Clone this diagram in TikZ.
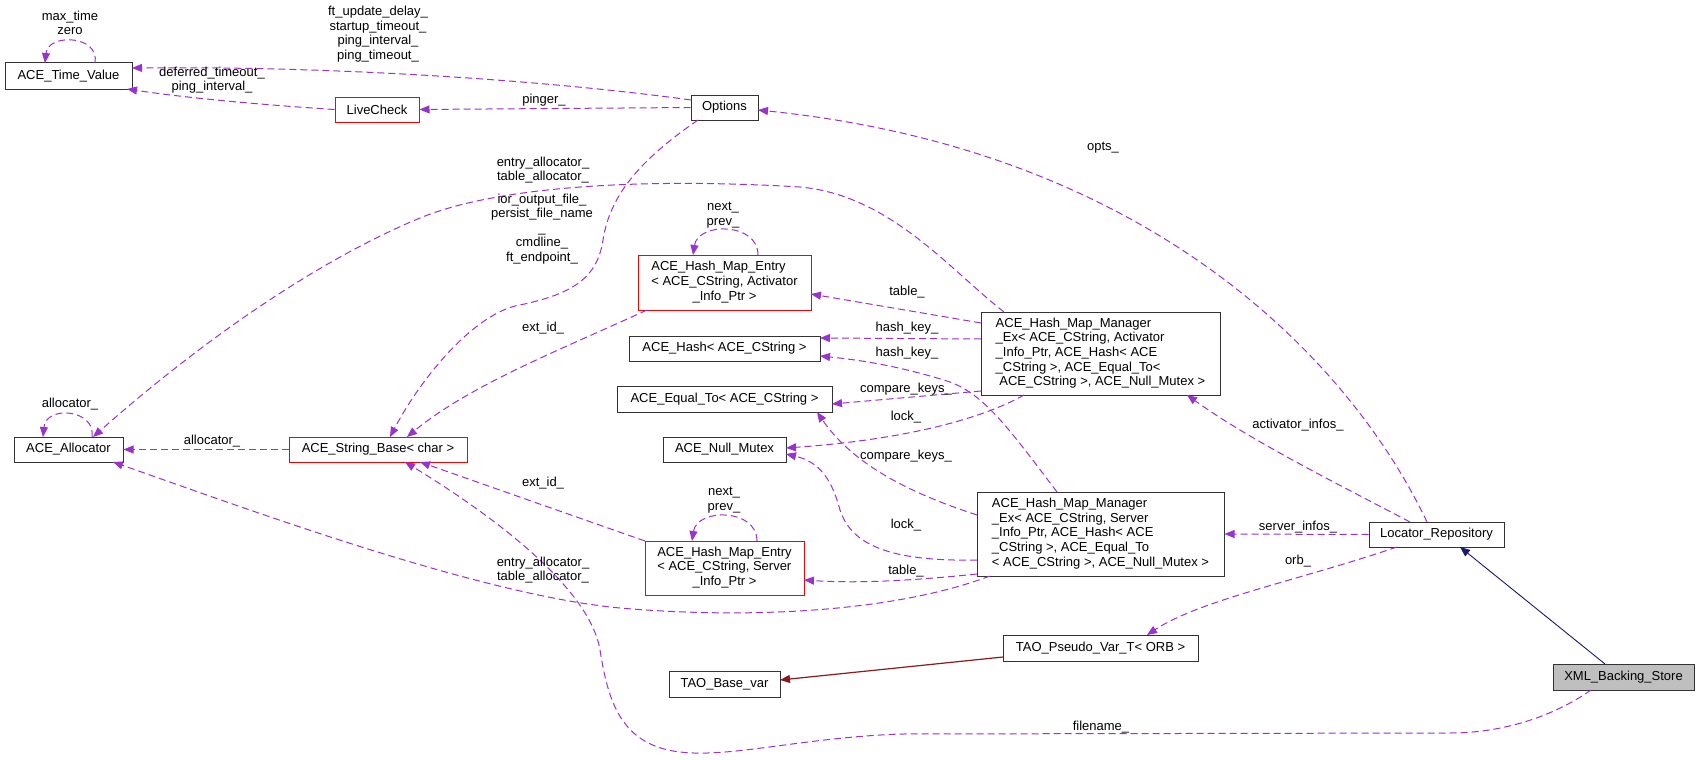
\documentclass[tikz,border=0pt]{standalone}
\usepackage{fontspec}
\setmainfont{Liberation Sans}
\usetikzlibrary{arrows.meta}
\definecolor{orch}{HTML}{9A32CD}
\definecolor{mblue}{HTML}{191970}
\definecolor{fbrick}{HTML}{8B1A1A}
\definecolor{nodegray}{HTML}{BFBFBF}
\newcommand{\mlt}[2]{\begin{tabular}{@{}l@{}}#1\\\multicolumn{1}{@{}c@{}}{#2}\end{tabular}}
\begin{document}
\begin{tikzpicture}[x=1pt,y=-1pt,
  every node/.style={font=\fontsize{13}{14.6}\selectfont},
  bx/.style={draw=black!80, line width=1pt, fill=white, inner sep=0pt, rectangle},
  rbx/.style={bx, draw=red},
  gbx/.style={bx, fill=nodegray},
  sz/.style 2 args={minimum width=#1pt, minimum height=#2pt},
  lbl/.style={inner sep=0pt, align=center},
  rel/.style={draw=orch, line width=1pt, dash pattern=on 7pt off 4pt, -{Triangle[length=10pt,width=8pt]}},
  inh/.style={draw=mblue, line width=0.9pt, -{Triangle[length=10pt,width=8pt]}},
  tmpl/.style={draw=fbrick, line width=1.2pt, -{Triangle[length=10pt,width=8pt]}}
]
\useasboundingbox[fill=white] (0,0) rectangle (1700,760);

% nodes
\node[bx,sz={127}{26}] (tv) at (68.5,76) {ACE\_Time\_Value};
\node[rbx,sz={84}{25}] (lc) at (377,109.5) {LiveCheck};
\node[bx,sz={67}{25}] (opt) at (724.5,107.5) {Options};
\node[bx,sz={109}{25}] (alloc) at (68.5,449.5) {ACE\_Allocator};
\node[rbx,sz={178}{25}] (sb) at (378,449.5) {ACE\_String\_Base< char >};
\node[rbx,sz={173}{55}] (hea) at (724.5,282.5) {\mlt{ACE\_Hash\_Map\_Entry\\< ACE\_CString, Activator}{\_Info\_Ptr >}};
\node[bx,sz={191}{25}] (hash) at (724.5,348.5) {ACE\_Hash< ACE\_CString >};
\node[bx,sz={215}{26}] (eq) at (724.5,399) {ACE\_Equal\_To< ACE\_CString >};
\node[bx,sz={123}{25}] (nm) at (724.5,449.5) {ACE\_Null\_Mutex};
\node[bx,sz={239}{83}] (hma) at (1100.5,353.5) {\mlt{ACE\_Hash\_Map\_Manager\\\_Ex< ACE\_CString, Activator\\\_Info\_Ptr, ACE\_Hash< ACE\\\_CString >, ACE\_Equal\_To<}{\ ACE\_CString >, ACE\_Null\_Mutex >}};
\node[bx,sz={247}{84}] (hms) at (1100.5,534) {\mlt{ACE\_Hash\_Map\_Manager\\\_Ex< ACE\_CString, Server\\\_Info\_Ptr, ACE\_Hash< ACE\\\_CString >, ACE\_Equal\_To}{< ACE\_CString >, ACE\_Null\_Mutex >}};
\node[rbx,sz={159}{54}] (hes) at (724.5,568) {\mlt{ACE\_Hash\_Map\_Entry\\< ACE\_CString, Server}{\_Info\_Ptr >}};
\node[bx,sz={135}{25}] (lr) at (1436.5,534.5) {Locator\_Repository};
\node[gbx,sz={141}{26}] (xml) at (1623.5,677) {XML\_Backing\_Store};
\node[bx,sz={195}{26}] (tpv) at (1100.5,648) {TAO\_Pseudo\_Var\_T< ORB >};
\node[bx,sz={111}{26}] (tbv) at (724.5,684) {TAO\_Base\_var};

% edges
\draw[rel] ([shift={(-33.5,-7.5)}]opt.center) .. controls (560,82) and (350,66) .. ([shift={(63.5,-8)}]tv.center);
\draw[rel] (opt.west) -- (lc.east);
\draw[rel] (lc.west) .. controls (250,104) and (180,97) .. ([shift={(58.5,13)}]tv.center);
\draw[rel] ([shift={(26.5,-13)}]tv.center) .. controls (100,35) and (48,33) .. ([shift={(-23.5,-13)}]tv.center);
\draw[rel] ([shift={(23.5,-12.5)}]alloc.center) .. controls (96,409) and (46,405) .. ([shift={(-25.5,-12.5)}]alloc.center);
\draw[rel] (sb.west) -- (alloc.east);
\draw[rel] ([shift={(-96.5,-41.5)}]hma.center) .. controls (950,270) and (890,195) .. (800,187) .. controls (650,178) and (500,185) .. (420,218) .. controls (300,268) and (180,360) .. ([shift={(24.5,-12.5)}]alloc.center);
\draw[rel] ([shift={(-110.5,42)}]hms.center) .. controls (900,610) and (760,620) .. (620,608) .. controls (480,595) and (250,510) .. ([shift={(44.5,12.5)}]alloc.center);
\draw[rel] ([shift={(-26.5,12.5)}]opt.center) .. controls (640,160) and (610,195) .. (603,240) .. controls (597,280) and (570,295) .. (515,306) .. controls (470,318) and (420,380) .. ([shift={(12,-12.5)}]sb.center);
\draw[rel] ([shift={(-77.5,27.5)}]hea.center) .. controls (560,350) and (470,385) .. ([shift={(29,-12.5)}]sb.center);
\draw[rel] ([shift={(-79.5,-27)}]hes.center) -- ([shift={(42,12.5)}]sb.center);
\draw[rel] ([shift={(-32.5,13)}]xml.center) .. controls (1560,712) and (1510,733) .. (1450,733) -- (900,734) .. controls (800,738) and (730,758) .. (680,752) .. controls (620,745) and (608,700) .. (600,650) .. controls (590,590) and (500,520) .. ([shift={(27,12.5)}]sb.center);
\draw[rel] ([shift={(-119.5,-30.5)}]hma.center) -- ([shift={(86.5,11.5)}]hea.center);
\draw[rel] ([shift={(-119.5,-14.5)}]hma.center) -- ([shift={(95.5,-10.5)}]hash.center);
\draw[rel] ([shift={(-43.5,-42)}]hms.center) .. controls (1010,430) and (985,395) .. (950,382) .. controls (900,366) and (860,360) .. ([shift={(95.5,7.5)}]hash.center);
\draw[rel] ([shift={(-119.5,37.5)}]hma.center) -- ([shift={(107.5,5)}]eq.center);
\draw[rel] ([shift={(-76.5,41.5)}]hma.center) .. controls (980,420) and (900,440) .. ([shift={(61.5,-1.5)}]nm.center);
\draw[rel] ([shift={(-123.5,-19)}]hms.center) .. controls (900,490) and (850,460) .. ([shift={(92.5,13)}]eq.center);
\draw[rel] ([shift={(-123.5,26)}]hms.center) .. controls (880,562) and (850,540) .. (840,510) .. controls (832,480) and (820,462) .. ([shift={(61.5,4.5)}]nm.center);
\draw[rel] ([shift={(-123.5,40)}]hms.center) .. controls (900,582) and (850,583) .. ([shift={(79.5,12)}]hes.center);
\draw[rel] ([shift={(33.5,-27.5)}]hea.center) .. controls (758,222) and (698,222) .. ([shift={(-31.5,-27.5)}]hea.center);
\draw[rel] ([shift={(32.5,-27)}]hes.center) .. controls (757,508) and (697,508) .. ([shift={(-32.5,-27)}]hes.center);
\draw[rel] ([shift={(-9.5,-12.5)}]lr.center) .. controls (1350,360) and (1150,150) .. ([shift={(33.5,2.5)}]opt.center);
\draw[rel] ([shift={(-26.5,-12.5)}]lr.center) .. controls (1330,480) and (1250,440) .. ([shift={(86.5,41.5)}]hma.center);
\draw[rel] (lr.west) -- (hms.east);
\draw[rel] ([shift={(-39.5,12.5)}]lr.center) .. controls (1300,580) and (1200,600) .. ([shift={(46.5,-13)}]tpv.center);
\draw[inh] ([shift={(-18.5,-13)}]xml.center) -- ([shift={(23.5,12.5)}]lr.center);
\draw[tmpl] ([shift={(-97.5,9)}]tpv.center) -- ([shift={(55.5,-4)}]tbv.center);

% labels
\node[lbl] (l1) at (378,34) {ft\_update\_delay\_\\startup\_timeout\_\\ping\_interval\_\\ping\_timeout\_};
\node[lbl] (l2) at (544,100) {pinger\_};
\node[lbl] (l3) at (212,80) {deferred\_timeout\_\\ping\_interval\_};
\node[lbl] (l4) at (70,23) {max\_time\\zero};
\node[lbl] (l5) at (70,404) {allocator\_};
\node[lbl] (l6) at (212,441) {allocator\_};
\node[lbl] (l7) at (543,170) {entry\_allocator\_\\table\_allocator\_};
\node[lbl] (l8) at (543,570) {entry\_allocator\_\\table\_allocator\_};
\node[lbl] (l9) at (542,229) {ior\_output\_file\_\\persist\_file\_name\\\_\\cmdline\_\\ft\_endpoint\_};
\node[lbl] (l10) at (543,328) {ext\_id\_};
\node[lbl] (l11) at (543,483) {ext\_id\_};
\node[lbl] (l12) at (1101,727) {filename\_};
\node[lbl] (l13) at (907,292) {table\_};
\node[lbl] (l14) at (907,328) {hash\_key\_};
\node[lbl] (l15) at (907,353) {hash\_key\_};
\node[lbl] (l16) at (906,389) {compare\_keys\_};
\node[lbl] (l17) at (906,417) {lock\_};
\node[lbl] (l18) at (906,456) {compare\_keys\_};
\node[lbl] (l19) at (906,525) {lock\_};
\node[lbl] (l20) at (906,571) {table\_};
\node[lbl] (l21) at (723,215) {next\_\\prev\_};
\node[lbl] (l22) at (724,500) {next\_\\prev\_};
\node[lbl] (l23) at (1103,148) {opts\_};
\node[lbl] (l24) at (1298,425) {activator\_infos\_};
\node[lbl] (l25) at (1298,527) {server\_infos\_};
\node[lbl] (l26) at (1298,561) {orb\_};
\end{tikzpicture}
\end{document}
